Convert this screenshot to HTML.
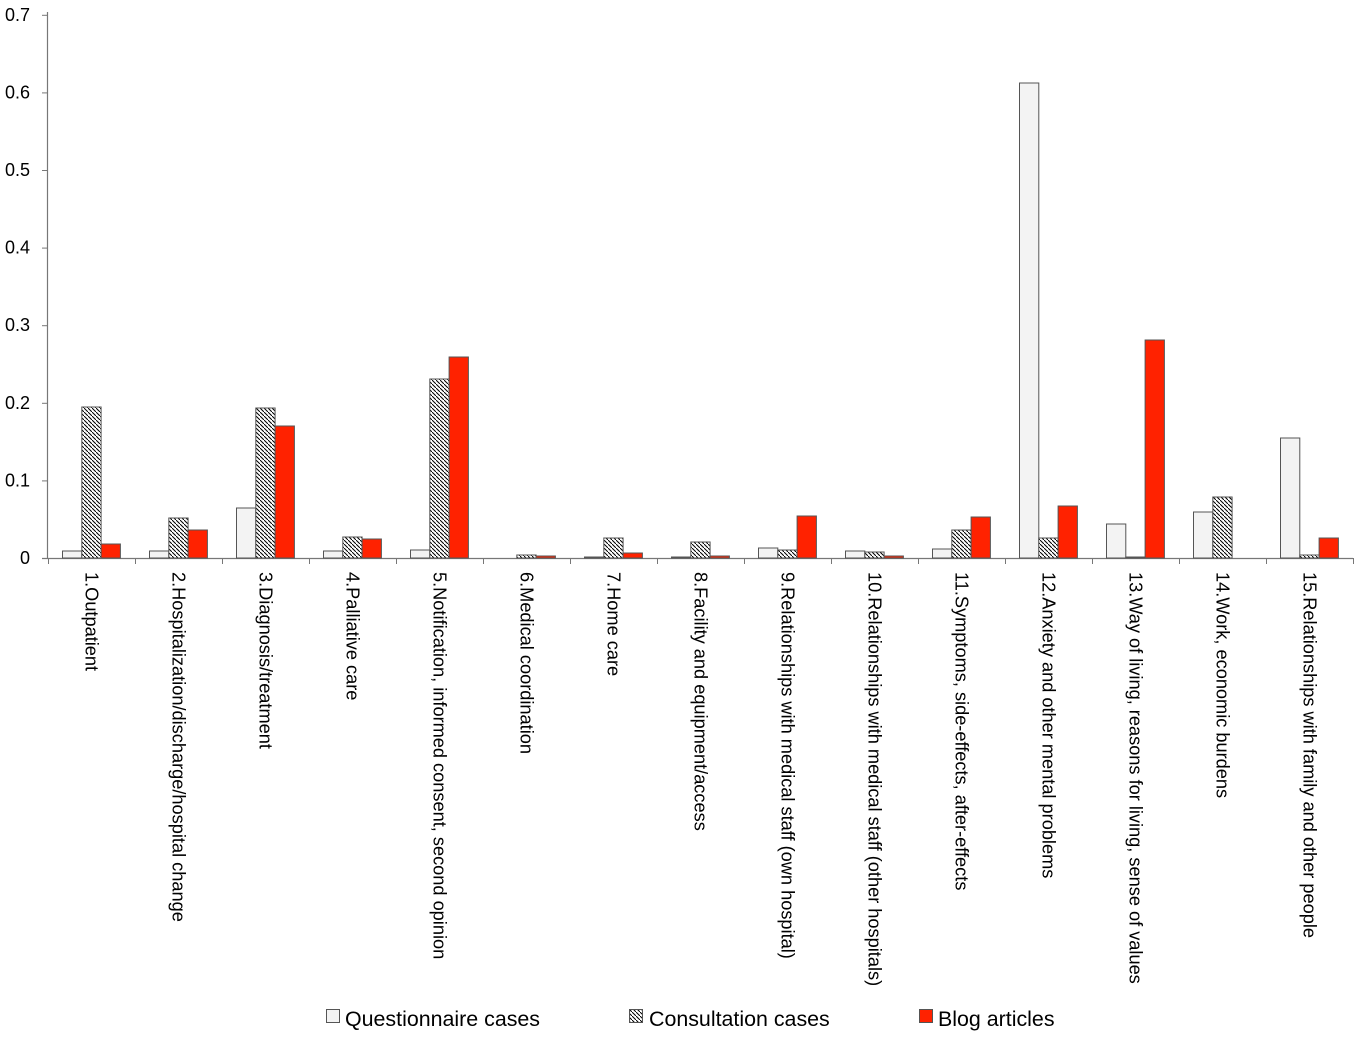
<!DOCTYPE html>
<html><head><meta charset="utf-8"><style>
html,body{margin:0;padding:0;background:#fff;}
svg{display:block;font-family:"Liberation Sans",sans-serif;}
</style></head><body>
<svg id="c" width="1367" height="1037" xmlns="http://www.w3.org/2000/svg">
<defs>
<pattern id="h" width="4" height="4" patternUnits="userSpaceOnUse">
<rect width="4" height="4" fill="#fff"/>
<path d="M-1,-1 l2,2 M0,0 l4,4 M3,3 l2,2" stroke="#000" stroke-width="1"/>
</pattern>
</defs>
</svg>
<script>
var s=document.getElementById('c'),o='';
var y0=558;
o+='<line x1="47.5" y1="12" x2="47.5" y2="558" stroke="#777" stroke-width="1.2"/>';
o+='<line x1="42" y1="558.5" x2="1353" y2="558.5" stroke="#777" stroke-width="1.2"/>';
for(var i=0;i<=7;i++){var y=y0-i*77.6;o+='<line x1="42" x2="48" y1="'+(y+0.5)+'" y2="'+(y+0.5)+'" stroke="#777"/>';
o+='<text x="30" y="'+(y+6)+'" font-size="18" text-anchor="end">'+(i==0?'0':(i/10).toFixed(1))+'</text>';}
for(var i=0;i<=15;i++){var x=48+i*87;o+='<line x1="'+(x+0.5)+'" x2="'+(x+0.5)+'" y1="558" y2="564" stroke="#777"/>';}
var q=[551,551,508,551,550,558,557,557,548,551,549,83,524,512,438];
var c=[407,518,408,537,379,555,538,542,550,552,530,538,557,497,555];
var b=[544,530,426,539,357,556,553,556,516,556,517,506,340,558,538];
var labels=["1.Outpatient","2.Hospitalization/discharge/hospital change","3.Diagnosis/treatment","4.Palliative care","5.Notification, informed consent, second opinion","6.Medical coordination","7.Home care","8.Facility and equipment/access","9.Relationships with medical staff (own hospital)","10.Relationships with medical staff (other hospitals)","11.Symptoms, side-effects, after-effects","12.Anxiety and other mental problems","13.Way of living, reasons for living, sense of values","14.Work, economic burdens","15.Relationships with family and other people"];
function bar(x,t,f){if(t>=558)return '';return '<rect x="'+x+'" y="'+t+'" width="19.3" height="'+(558-t)+'" fill="'+f+'" stroke="#555" stroke-width="1"/>';}
for(var i=0;i<15;i++){var x=48+i*87+14.5;
o+=bar(x,q[i],'#f3f3f3');o+=bar(x+19.3,c[i],'url(#h)');o+=bar(x+38.6,b[i],'#ff2200');
var cx=48+i*87+43.5-6;
o+='<text transform="translate('+cx+',572) rotate(90)" font-size="18.2">'+labels[i]+'</text>';}
o+='<rect x="326.5" y="1009.5" width="13" height="13" fill="#f3f3f3" stroke="#555"/><text x="345" y="1026" font-size="21.4">Questionnaire cases</text>';
o+='<rect x="629.5" y="1009.5" width="13" height="13" fill="url(#h)" stroke="#555"/><text x="649" y="1026" font-size="21.4">Consultation cases</text>';
o+='<rect x="919.5" y="1009.5" width="13" height="13" fill="#ff2200" stroke="#555"/><text x="938" y="1026" font-size="21.4">Blog articles</text>';
s.insertAdjacentHTML('beforeend',o);
</script>
</body></html>
